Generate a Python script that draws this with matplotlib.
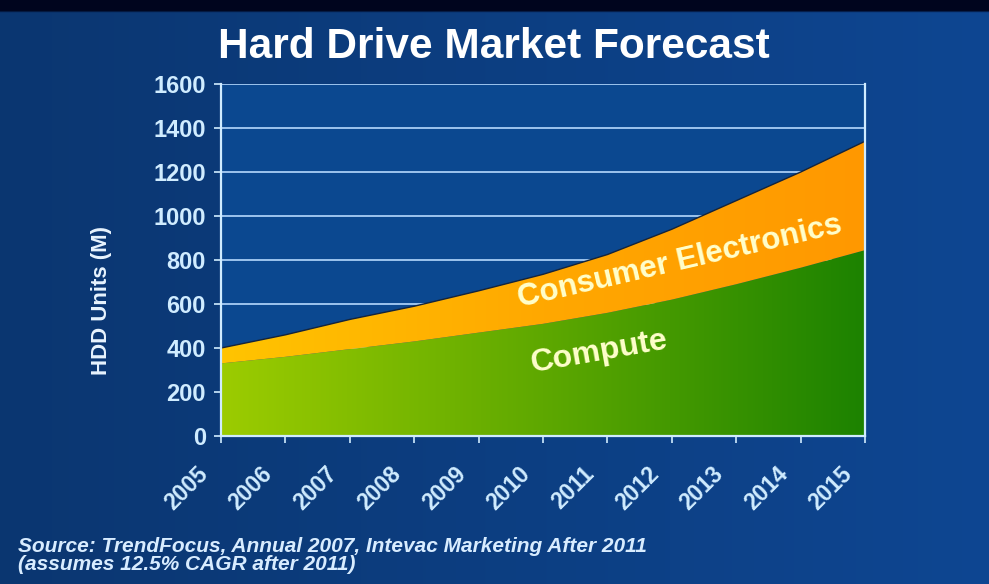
import numpy as np
import matplotlib
matplotlib.use("Agg")
import matplotlib.pyplot as plt
import matplotlib.transforms as mtransforms
from matplotlib.colors import LinearSegmentedColormap

years = [2005, 2006, 2007, 2008, 2009, 2010, 2011, 2012, 2013, 2014, 2015]
compute = [330, 360, 395, 430, 470, 510, 560, 620, 690, 765, 845]
consumer = [70, 100, 135, 160, 190, 225, 265, 320, 380, 435, 495]
yticks = [0, 200, 400, 600, 800, 1000, 1200, 1400, 1600]

title = "Hard Drive Market Forecast"
ylabel = "HDD Units (M)"
source_lines = ["Source: TrendFocus, Annual 2007, Intevac Marketing After 2011",
                "(assumes 12.5% CAGR after 2011)"]

plt.rcParams['font.family'] = ['Liberation Sans', 'DejaVu Sans']

fig = plt.figure(figsize=(9.89, 5.84), dpi=100)

# figure background gradient
bg = fig.add_axes([0, 0, 1, 1], zorder=-10)
bg.set_axis_off()
h, w = 200, 400
xg = np.linspace(0, 1, w)[None, :]
yg = np.linspace(0, 1, h)[:, None]
base = np.array([0.05, 0.25, 0.52])
img = np.ones((h, w, 3)) * base
img = img * (0.85 + 0.25 * xg[..., None])
top = (yg < 0.02)[..., None]
img = np.where(top, np.array([0.0, 0.02, 0.12]), img)
img = np.clip(img, 0, 1)
bg.imshow(img, aspect='auto', extent=[0, 1, 0, 1], origin='upper')
bg.set_xlim(0, 1); bg.set_ylim(0, 1)

ax = fig.add_axes([0.2235, 0.2534, 0.6512, 0.6027])
ax.set_facecolor('#0b4890')

total = np.array(compute) + np.array(consumer)
x = np.array(years)

for yv in yticks[1:]:
    ax.axhline(yv, color='#a8cdf5', lw=1.3, zorder=1)

poly_c = ax.fill_between(x, 0, compute, color='none', lw=0, zorder=2)
poly_e = ax.fill_between(x, compute, total, color='none', lw=0, zorder=2)

cmap_c = LinearSegmentedColormap.from_list('c', ['#9ccc00', '#5ea800', '#1c8200'])
cmap_e = LinearSegmentedColormap.from_list('e', ['#ffc400', '#ffa800', '#ff9800'])
grad = np.linspace(0, 1, 256)[None, :]
ext = [years[0], years[-1], yticks[0], yticks[-1]]
im1 = ax.imshow(grad, cmap=cmap_c, aspect='auto', extent=ext, zorder=3, origin='lower')
im1.set_clip_path(poly_c.get_paths()[0], transform=ax.transData)
im2 = ax.imshow(grad, cmap=cmap_e, aspect='auto', extent=ext, zorder=3, origin='lower')
im2.set_clip_path(poly_e.get_paths()[0], transform=ax.transData)
ax.plot(x, total, color='#14243c', lw=1.0, zorder=4)
ax.set_xlim(years[0], years[-1])
ax.set_ylim(yticks[0], yticks[-1])

ax.spines['top'].set_visible(False)
for s in ['left', 'bottom', 'right']:
    ax.spines[s].set_color('#d0ecff')
    ax.spines[s].set_linewidth(1.6)
    ax.spines[s].set_zorder(5)

ax.set_yticks(yticks)
ax.set_yticklabels([str(v) for v in yticks], fontsize=17, fontweight='bold', color='#e8f4ff')
ax.set_xticks(years)
ax.set_xticklabels([str(y) for y in years], rotation=45, ha='right', va='top',
                   fontsize=16.5, fontweight='bold', color='#e0f0ff')
ax.tick_params(axis='both', colors='#d0ecff', length=5, width=1.2, direction='out')
ax.tick_params(axis='x', pad=14)
ax.tick_params(axis='y', pad=6)
offset = mtransforms.ScaledTranslation(-6 / 72, 0, fig.dpi_scale_trans)
for lab in ax.get_xticklabels():
    lab.set_transform(lab.get_transform() + offset)

fig.text(101 / 989, 1 - 300 / 584, ylabel, rotation=90, ha='center', va='center',
         fontsize=16, fontweight='bold', color='#e8f4ff')

fig.text(494 / 989, 1 - 47 / 584, title, ha='center', va='center', fontsize=30.5,
         fontweight='bold', color='#ffffff')

ax.text(2012.12, 791, 'Consumer Electronics', rotation=13, ha='center', va='center',
        fontsize=22.5, fontweight='bold', color='#ffffcc', zorder=6)
ax.text(2010.88, 382, 'Compute', rotation=10, ha='center', va='center',
        fontsize=23, fontweight='bold', color='#ffffcc', zorder=6)

fig.text(18 / 989, 1 - 547 / 584, source_lines[0], ha='left', va='center',
         fontsize=15, fontweight='bold', style='italic', color='#d8ecff')
fig.text(18 / 989, 1 - 565 / 584, source_lines[1], ha='left', va='center',
         fontsize=15, fontweight='bold', style='italic', color='#d8ecff')

fig.savefig('out.png', dpi=100)
